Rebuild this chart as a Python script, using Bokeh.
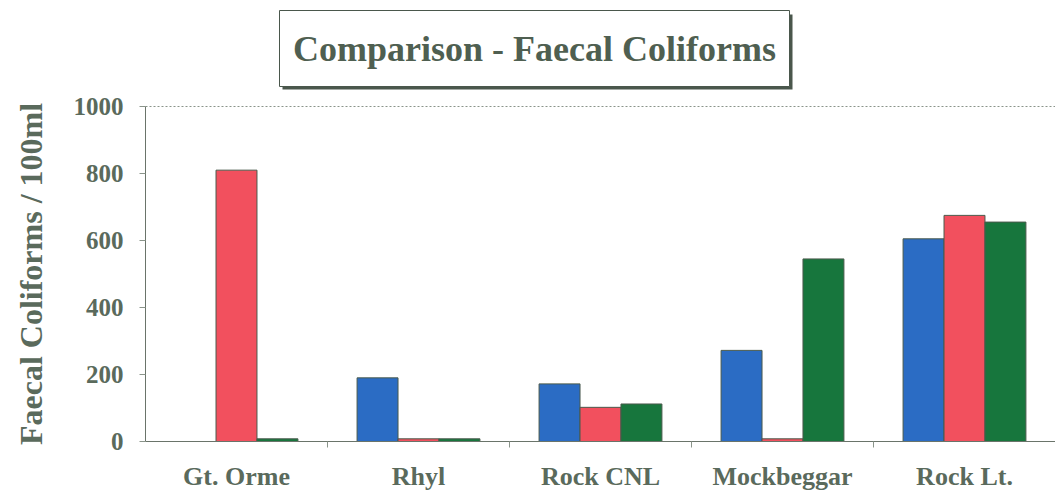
import math
from bokeh.plotting import figure
from bokeh.models import Range1d, FixedTicker, LinearAxis
from bokeh.core.properties import value
from bokeh.embed import file_html
from bokeh.resources import INLINE

categories = ["Gt. Orme", "Rhyl", "Rock CNL", "Mockbeggar", "Rock Lt."]
series_blue = [0, 190, 172, 272, 605]
series_red = [810, 8, 102, 8, 675]
series_green = [8, 8, 112, 545, 655]
y_ticks = [0, 200, 400, 600, 800, 1000]
title_text = "Comparison - Faecal Coliforms"
y_label = "Faecal Coliforms / 100ml"

colors = ["#2b6cc4", "#f2505e", "#17763d"]
text_color = "#5a6a5c"
font = "Liberation Serif"

W, H = 1055, 498
axis_px, base_py = 145, 441          # page position of the value axis and the zero line
n = len(categories)
px_per_cat = (W - axis_px) / n
plot_px_per_1000 = 335.0
y_top = y_ticks[-1]
y_max = y_top * base_py / plot_px_per_1000
y_min = -y_top * (H - base_py) / plot_px_per_1000
x_min = -axis_px / px_per_cat

p = figure(width=W, height=H, x_range=Range1d(x_min, n), y_range=Range1d(y_min, y_max),
           output_backend="svg", toolbar_location=None, y_axis_location=None, x_axis_location=None,
           min_border_left=0, min_border_right=0, min_border_top=0, min_border_bottom=0)
p.outline_line_color = None
p.xgrid.grid_line_color = None
p.ygrid.grid_line_color = None
p.background_fill_color = "white"
p.border_fill_color = "white"

# helpers: page pixel -> data (for decorations only)
def px_x(px):
    return (px - axis_px) / px_per_cat

def px_y(py):
    return (base_py - py) / plot_px_per_1000 * 1000

centers = [i + 0.5 for i in range(n)]
w = 0.225
for k, (vals, col) in enumerate(zip([series_blue, series_red, series_green], colors)):
    xs = [c + (k - 1) * w for c in centers]
    p.vbar(x=xs, top=vals, bottom=0, width=w, fill_color=col, line_color="#4a5a4c", line_width=1)

# dotted top line at the maximum tick
p.segment(x0=[0], x1=[n], y0=[y_top], y1=[y_top], line_color="#8a948a", line_dash="2 2", line_width=1)

# title box with shadow
bx0, bx1, by0, by1 = 279, 789, 10, 86
p.quad(left=[px_x(bx0 + 3)], right=[px_x(bx1 + 3)], top=[px_y(by0 + 4)], bottom=[px_y(by1 + 3)],
       fill_color="#4a574c", line_color=None)
p.quad(left=[px_x(bx0)], right=[px_x(bx1)], top=[px_y(by0)], bottom=[px_y(by1)],
       fill_color="white", line_color="#4a574c", line_width=1)
p.text(x=[px_x((bx0 + bx1) / 2)], y=[px_y((by0 + by1) / 2)], text=[title_text],
       text_align="center", text_baseline="middle", text_font=value(font),
       text_font_style="bold", text_font_size="36px", text_color="#4f5f51")

# y axis title, rotated, centred on the value span
p.text(x=[px_x(30)], y=[y_top / 2], text=[y_label], angle=math.pi / 2,
       text_align="center", text_baseline="middle", text_font=value(font),
       text_font_style="bold", text_font_size="32px", text_color=text_color)

# x axis at fixed location y=0
xaxis = LinearAxis(fixed_location=0, ticker=FixedTicker(ticks=centers, minor_ticks=list(range(1, n))),
                   bounds=(0, n))
xaxis.major_label_overrides = {c: name for c, name in zip(centers, categories)}
xaxis.major_tick_line_color = None
xaxis.minor_tick_out = 6
xaxis.minor_tick_in = 0
xaxis.minor_tick_line_color = "#8a948a"
xaxis.axis_line_color = "#6a746a"
xaxis.major_label_text_font = font
xaxis.major_label_text_font_style = "bold"
xaxis.major_label_text_font_size = "26px"
xaxis.major_label_text_color = text_color
xaxis.major_label_standoff = 14
p.add_layout(xaxis, "below")

# y axis at fixed location x=0
yaxis = LinearAxis(fixed_location=0, ticker=FixedTicker(ticks=y_ticks), bounds=(0, y_top))
yaxis.minor_tick_line_color = None
yaxis.major_tick_out = 6
yaxis.major_tick_in = 0
yaxis.major_tick_line_color = "#8a948a"
yaxis.axis_line_color = "#6a746a"
yaxis.major_label_text_font = font
yaxis.major_label_text_font_style = "bold"
yaxis.major_label_text_font_size = "25px"
yaxis.major_label_text_color = text_color
yaxis.major_label_standoff = 16
p.add_layout(yaxis, "left")

open("out.html", "w").write(file_html(p, INLINE))
